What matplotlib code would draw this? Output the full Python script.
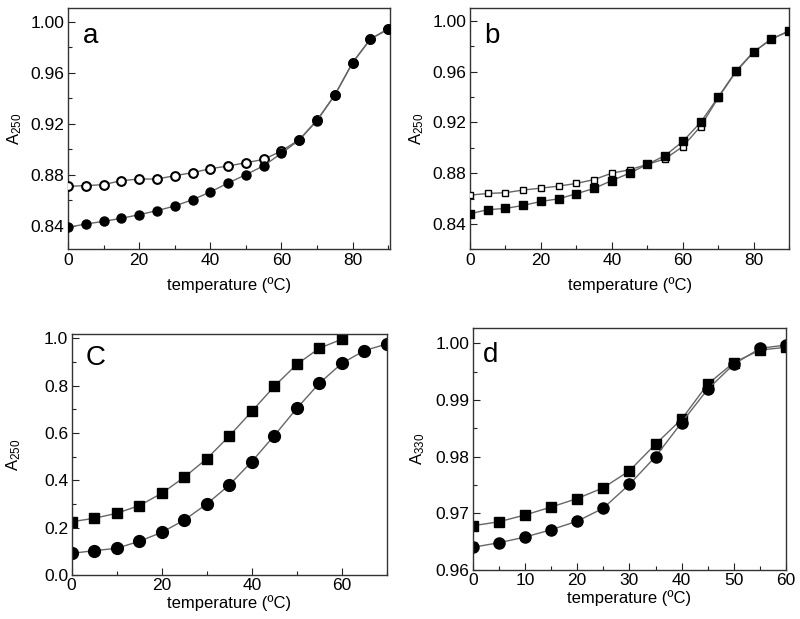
import matplotlib
matplotlib.use("Agg")
import matplotlib.pyplot as plt
from matplotlib.ticker import MultipleLocator, FormatStrFormatter

plt.rcParams['font.family'] = ['Liberation Sans', 'DejaVu Sans']
plt.rcParams['mathtext.default'] = 'regular'

# ---- data ----
temp_a = [0, 5, 10, 15, 20, 25, 30, 35, 40, 45, 50, 55, 60, 65, 70, 75, 80, 85, 90]
a_filled = [0.8387, 0.8413, 0.8434, 0.8458, 0.8486, 0.8518, 0.8554, 0.8604, 0.8664, 0.8735,
            0.8800, 0.8870, 0.8968, 0.9072, 0.9224, 0.9425, 0.9679, 0.9864, 0.9940]
a_open = [0.8709, 0.8714, 0.8722, 0.8753, 0.8766, 0.8766, 0.8792, 0.8816, 0.8847, 0.8868,
          0.8894, 0.8920, 0.8986, 0.9075, 0.9228, 0.9425, 0.9679, 0.9864, 0.9945]

temp_b = [0, 5, 10, 15, 20, 25, 30, 35, 40, 45, 50, 55, 60, 65, 70, 75, 80, 85, 90]
b_filled = [0.8480, 0.8512, 0.8522, 0.8546, 0.8577, 0.8598, 0.8638, 0.8680, 0.8742, 0.8800,
            0.8869, 0.8939, 0.9050, 0.9200, 0.9400, 0.9606, 0.9758, 0.9858, 0.9921]
b_open = [0.8627, 0.8640, 0.8646, 0.8667, 0.8682, 0.8698, 0.8719, 0.8750, 0.8800, 0.8827,
          0.8869, 0.8913, 0.9010, 0.9168, 0.9395, 0.9600, 0.9755, 0.9858, 0.9921]

temp_c_sq = [0, 5, 10, 15, 20, 25, 30, 35, 40, 45, 50, 55, 60]
c_square = [0.225, 0.2395, 0.2606, 0.293, 0.345, 0.413, 0.491, 0.587, 0.691, 0.797, 0.890, 0.958, 0.996]
temp_c_ci = [0, 5, 10, 15, 20, 25, 30, 35, 40, 45, 50, 55, 60, 65, 70]
c_circle = [0.0915, 0.1027, 0.1127, 0.1423, 0.180, 0.232, 0.300, 0.380, 0.479, 0.589, 0.704,
            0.810, 0.894, 0.948, 0.976]

temp_d = [0, 5, 10, 15, 20, 25, 30, 35, 40, 45, 50, 55, 60]
d_square = [0.9678, 0.9685, 0.9697, 0.9711, 0.9726, 0.9745, 0.9775, 0.9822, 0.9866, 0.9928,
            0.9966, 0.9988, 0.9993]
d_circle = [0.9640, 0.9648, 0.9658, 0.9671, 0.9686, 0.9709, 0.9751, 0.9800, 0.9860, 0.9919,
            0.9963, 0.9991, 0.9997]

xlabel = 'temperature (\u00baC)'
line_col = '#666666'

fig = plt.figure(figsize=(8.0, 6.19), dpi=100)

def style(ax, xlim, ylim, xmaj, xmin, ymaj, ymin, yfmt, letter, lx, ly, ylabel,
          xpad=6, ypad=6):
    ax.set_xlim(*xlim)
    ax.set_ylim(*ylim)
    ax.xaxis.set_major_locator(MultipleLocator(xmaj))
    ax.xaxis.set_minor_locator(MultipleLocator(xmin))
    ax.yaxis.set_major_locator(MultipleLocator(ymaj))
    ax.yaxis.set_minor_locator(MultipleLocator(ymin))
    ax.yaxis.set_major_formatter(FormatStrFormatter(yfmt))
    ax.tick_params(which='both', direction='in', top=False, right=False, colors='#222222',
                   labelcolor='black', labelsize=12.5, pad=2.5)
    ax.tick_params(which='major', length=5, width=0.8)
    ax.tick_params(which='minor', length=3, width=0.8)
    for s in ax.spines.values():
        s.set_color('#333333')
        s.set_linewidth(1.0)
    ax.set_xlabel(xlabel, fontsize=12, labelpad=xpad)
    ax.set_ylabel(ylabel, fontsize=12, labelpad=ypad)
    ax.text(lx, ly, letter, transform=ax.transAxes, fontsize=20, va='baseline', ha='left')

# panel a
axa = fig.add_axes([0.085, 0.5973, 0.4025, 0.3893])
axa.plot(temp_a, a_open, color=line_col, lw=1.0, marker='o', ms=6.3, mfc='white', mec='black',
         mew=1.5, zorder=3)
axa.plot(temp_a, a_filled, color=line_col, lw=1.0, marker='o', ms=6.5, mfc='black', mec='black',
         zorder=4)
style(axa, (0, 90.5), (0.8215, 1.0105), 20, 10, 0.04, 0.02, '%.2f', 'a', 0.045, 0.855, 'A$_{250}$',
      xpad=7, ypad=5)

# panel b
axb = fig.add_axes([0.5875, 0.5973, 0.399, 0.3893])
axb.plot(temp_b, b_open, color=line_col, lw=1.0, marker='s', ms=4.6, mfc='white', mec='black',
         mew=1.0, zorder=3)
axb.plot(temp_b, b_filled, color=line_col, lw=1.0, marker='s', ms=6.0, mfc='black', mec='black',
         zorder=4)
style(axb, (0, 90), (0.82, 1.01), 20, 10, 0.04, 0.02, '%.2f', 'b', 0.044, 0.858, 'A$_{250}$',
      xpad=7, ypad=5)

# panel c
axc = fig.add_axes([0.0896, 0.0711, 0.394, 0.3893])
axc.plot(temp_c_sq, c_square, color=line_col, lw=1.0, marker='s', ms=7.0, mfc='black', mec='black')
axc.plot(temp_c_ci, c_circle, color=line_col, lw=1.0, marker='o', ms=8.5, mfc='black', mec='black')
style(axc, (0, 70), (0.0, 1.018), 20, 10, 0.2, 0.1, '%.1f', 'C', 0.045, 0.871, 'A$_{250}$',
      xpad=1.0, ypad=15)

# panel d
axd = fig.add_axes([0.5909, 0.0792, 0.3917, 0.3905])
axd.plot(temp_d, d_square, color=line_col, lw=1.0, marker='s', ms=6.5, mfc='black', mec='black')
axd.plot(temp_d, d_circle, color=line_col, lw=1.0, marker='o', ms=8.0, mfc='black', mec='black')
style(axd, (0, 60), (0.96, 1.00265), 10, 5, 0.01, 0.005, '%.2f', 'd', 0.034, 0.862, 'A$_{330}$',
      xpad=1.5, ypad=6)

fig.savefig('out.png', dpi=100)
